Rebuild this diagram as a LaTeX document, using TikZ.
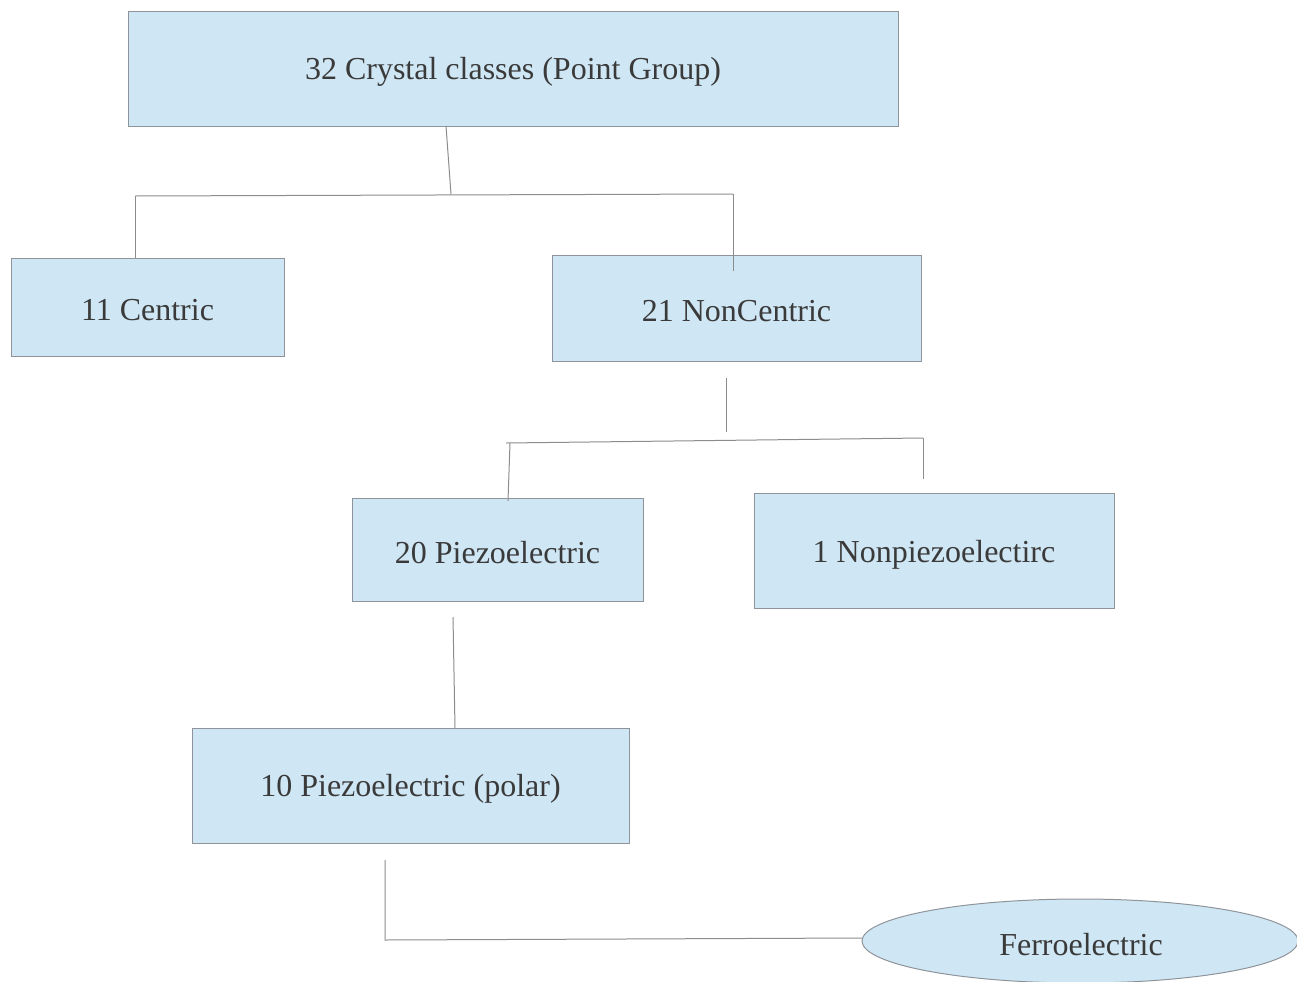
\documentclass[tikz,border=0pt]{standalone}
\usepackage{fontspec}
\setmainfont{Liberation Serif}
\usetikzlibrary{shapes.geometric}
\definecolor{boxfill}{HTML}{CFE6F4}
\definecolor{boxline}{HTML}{8F949A}
\definecolor{txt}{HTML}{3A3A3A}
\definecolor{conn}{HTML}{8C8C8C}
\begin{document}
\begin{tikzpicture}[x=0.75pt,y=-0.75pt,
  cbox/.style={draw=boxline,fill=boxfill,line width=0.75pt,inner sep=0pt},
  ctext/.style={text=txt,font=\fontsize{24}{28}\selectfont,inner sep=0pt,yshift=-2.4pt},
  conline/.style={draw=conn,line width=0.75pt}]
\useasboundingbox (0,0) rectangle (1297,982);
\begin{scope}
\clip (0,0) rectangle (1297,982);
\node[cbox,minimum width=577.5pt,minimum height=86.25pt] (top) at (513,68.5) {};
\node[ctext] (topt) at (513,68.5) {32 Crystal classes (Point Group)};
\node[cbox,minimum width=204.75pt,minimum height=73.5pt] (cen) at (147.5,307) {};
\node[ctext] (cent) at (147.5,307) {11 Centric};
\node[cbox,minimum width=276.75pt,minimum height=79.5pt] (ncen) at (736.5,308) {};
\node[ctext] (ncent) at (736.5,308) {21 NonCentric};
\node[cbox,minimum width=218.25pt,minimum height=77.25pt] (piezo) at (497.5,549.5) {};
\node[ctext] (piezot) at (497.5,549.5) {20 Piezoelectric};
\node[cbox,minimum width=270pt,minimum height=86.25pt] (npiezo) at (934,550.5) {};
\node[ctext] (npiezot) at (934,551.5) {1 Nonpiezoelectirc};
\node[cbox,minimum width=327.75pt,minimum height=86.25pt] (polar) at (410.5,785.5) {};
\node[ctext] (polart) at (410.5,785.5) {10 Piezoelectric (polar)};
\node[draw=boxline,fill=boxfill,line width=0.75pt,ellipse,inner sep=0pt,
  minimum width=327pt,minimum height=63pt] (ferro) at (1080,941) {};
\node[ctext] (ferrot) at (1081,941) {Ferroelectric};
\end{scope}
% junction coordinates
\coordinate (t1) at (446,126);
\coordinate (j1) at (451,194);
\coordinate (hl) at (135,196);
\coordinate (hr) at (733,194);
\coordinate (cen1) at (135,258);
\coordinate (ncen1) at (733,271);
\coordinate (n2a) at (726,378);
\coordinate (n2b) at (726,432);
\coordinate (hl2) at (506,443);
\coordinate (hr2) at (923,438);
\coordinate (p0) at (510,443);
\coordinate (p1) at (508,501);
\coordinate (np1) at (923,479);
\coordinate (q0) at (453,617);
\coordinate (q1) at (455,728);
\coordinate (r0) at (385,860);
\coordinate (r1) at (385,940);
\coordinate (r2) at (862,938);
\draw[conline] (t1) -- (j1);
\draw[conline] (hl) -- (hr);
\draw[conline] (hl) -- (cen1);
\draw[conline] (hr) -- (ncen1);
\draw[conline] (n2a) -- (n2b);
\draw[conline] (hl2) -- (hr2);
\draw[conline] (p0) -- (p1);
\draw[conline] (hr2) -- (np1);
\draw[conline] (q0) -- (q1);
\draw[conline] (r0) -- (r1) -- (r2);
\end{tikzpicture}
\end{document}
